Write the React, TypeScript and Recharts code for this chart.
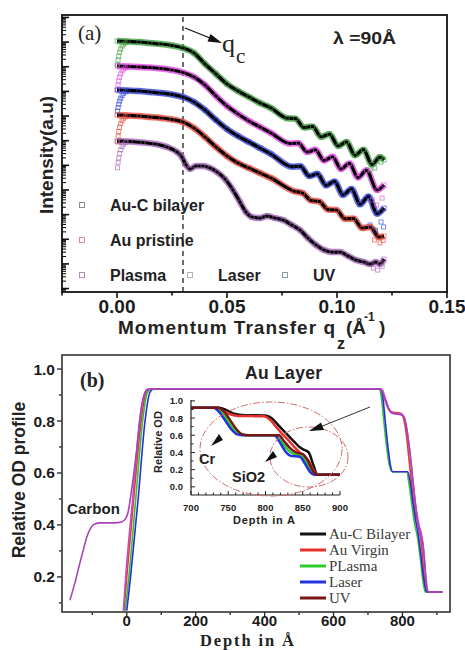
import React from 'react';
import { ComposedChart, Line, XAxis, YAxis, ReferenceLine } from 'recharts';

const SANS = 'Arial, "Liberation Sans", Helvetica, sans-serif';
const SERIF = '"Times New Roman", "Liberation Serif", Times, serif';

// ---------------- Panel (a): reflectivity (log10 intensity, a.u.) ----------------
const qMajorTicks = [0, 0.05, 0.1, 0.15];
const qTickLabels = ['0.00', '0.05', '0.10', '0.15'];
const qMinorTicks = [-0.025, 0.025, 0.075, 0.125];
const decadeTicks = [-11, -10, -9, -8, -7, -6, -5, -4, -3, -2, -1, 0];
const minorLogOffsets = [0.301, 0.477, 0.602, 0.699, 0.778, 0.845, 0.903, 0.954];

const smoothQ = [0, 0.005, 0.01, 0.015, 0.02, 0.025, 0.03, 0.035, 0.04, 0.045, 0.05, 0.055, 0.06, 0.065, 0.07];

const laserQ = [...smoothQ, 0.0773, 0.0811, 0.085, 0.0889, 0.0927, 0.0966, 0.1005, 0.1043, 0.1082, 0.112, 0.1159, 0.1195, 0.1214];
const laserFit = [-0.955, -0.976, -0.996, -1.036, -1.077, -1.138, -1.239, -1.442, -1.889, -2.294, -2.7, -2.984, -3.228, -3.471, -3.674,
  -4.088, -4.105, -4.466, -4.421, -4.843, -4.733, -5.216, -5.05, -5.594, -5.363, -5.971, -5.667, -5.785];

const plasmaQ = [...smoothQ, 0.0786, 0.0825, 0.0864, 0.0902, 0.0941, 0.098, 0.1018, 0.1057, 0.1095, 0.1134, 0.1182, 0.1214];
const plasmaFit = [-1.97, -1.99, -2.01, -2.031, -2.071, -2.132, -2.234, -2.416, -2.741, -3.187, -3.593, -3.918, -4.202, -4.445, -4.689,
  -5.115, -5.099, -5.458, -5.371, -5.805, -5.651, -6.15, -5.923, -6.495, -6.203, -7.002, -6.799];

const uvQ = [...smoothQ, 0.0795, 0.0834, 0.0873, 0.0911, 0.095, 0.0989, 0.1027, 0.1066, 0.1105, 0.1143, 0.1182, 0.1214];
const uvFit = [-2.944, -2.964, -2.984, -3.025, -3.066, -3.126, -3.228, -3.431, -3.756, -4.161, -4.527, -4.811, -5.054, -5.298, -5.541,
  -6.053, -6.039, -6.434, -6.345, -6.816, -6.653, -7.201, -6.958, -7.583, -7.266, -7.964, -7.733];

const pristineQ = [...smoothQ, 0.0805, 0.0843, 0.0882, 0.092, 0.0959, 0.0998, 0.1036, 0.1075, 0.1114, 0.1152, 0.1191, 0.1214];
const pristineFit = [-3.958, -3.979, -3.999, -4.04, -4.08, -4.141, -4.243, -4.486, -4.851, -5.257, -5.622, -5.906, -6.109, -6.312, -6.515,
  -7.051, -7.124, -7.424, -7.469, -7.794, -7.814, -8.171, -8.159, -8.544, -8.504, -8.914, -8.869];

const bilayerQ = [0, 0.0059, 0.0118, 0.0173, 0.0227, 0.0273, 0.0295, 0.0314, 0.0332, 0.0359, 0.0391, 0.0423, 0.0455, 0.0491, 0.0527,
  0.0559, 0.0586, 0.0614, 0.065, 0.0682, 0.0718, 0.0755, 0.0795, 0.0832, 0.0868, 0.0905, 0.0941, 0.0977, 0.1014, 0.105, 0.1086,
  0.1123, 0.115, 0.1177, 0.1195, 0.1214];
const bilayerFit = [-5.014, -5.034, -5.075, -5.135, -5.257, -5.46, -5.663, -5.988, -6.15, -6.028, -6.028, -6.109, -6.272, -6.556, -7.002,
  -7.489, -7.895, -8.098, -8.139, -8.058, -8.139, -8.22, -8.423, -8.626, -8.951, -9.235, -9.438, -9.519, -9.519, -9.681, -9.843,
  -9.925, -10.006, -9.925, -10.006, -9.803];

// measured points below the footprint region and at the high-q tail
const lowQ = [0.0002, 0.0005, 0.0008, 0.0012, 0.0017, 0.0023, 0.003, 0.004];
const laserLow = [-1.93, -1.73, -1.57, -1.41, -1.28, -1.16, -1.08, -1.03];
const plasmaLow = [-2.94, -2.74, -2.58, -2.42, -2.29, -2.17, -2.09, -2.04];
const uvLow = [-3.8, -3.65, -3.52, -3.39, -3.28, -3.17, -3.08, -3.02];
const pristineLow = [-5.05, -4.82, -4.63, -4.45, -4.31, -4.19, -4.09, -4.03];
const bilayerLow = [-6.1, -5.88, -5.7, -5.52, -5.37, -5.24, -5.14, -5.08];

const laserTailQ = [0.115, 0.1172, 0.12];
const laserTail = [-6.19, -6.11, -5.87];
const plasmaTailQ = [0.116, 0.118, 0.1205];
const plasmaTail = [-7.41, -7.61, -7.33];
const uvTailQ = [0.115, 0.1175, 0.12, 0.1212];
const uvTail = [-8.42, -8.63, -8.3, -8.5];
const pristineTailQ = [0.117, 0.1195, 0.121];
const pristineTail = [-9.03, -9.15, -9.05];
const bilayerTailQ = [0.1165, 0.1185, 0.1205];
const bilayerTail = [-10.17, -10.25, -10.1];

const legendA = ['Au-C bilayer', 'Au pristine', 'Plasma', 'Laser', 'UV'];
const legendAColors = ['#8c8c8c', '#e88a8a', '#b78ab7', '#a9b8a9', '#8c98a8'];

// ---------------- Panel (b): OD depth profile ----------------
const depthMajorTicks = [0, 200, 400, 600, 800];
const depthMinorTicks = [-100, 100, 300, 500, 700, 900];
const odMajorTicks = [0.2, 0.4, 0.6, 0.8, 1.0];
const odMinorTicks = [0.1, 0.3, 0.5, 0.7, 0.9];

const bBilayerD = [-165, -150, -136, -125, -116, -106, -96, -80, -50, -20, -6, 3, 14, 29, 43, 52, 61, 70, 733, 742, 750, 758, 770, 797, 806, 815, 826, 835, 844, 852, 858, 864, 870, 876, 916];
const bBilayerOD = [0.11, 0.18, 0.254, 0.31, 0.354, 0.385, 0.401, 0.408, 0.408, 0.41, 0.42, 0.445, 0.535, 0.69, 0.855, 0.905, 0.92, 0.923, 0.923, 0.91, 0.88, 0.85, 0.83, 0.823, 0.81, 0.745, 0.63, 0.515, 0.41, 0.355, 0.335, 0.26, 0.16, 0.142, 0.142];
const bVirginD = [-8, 0, 20, 40, 52, 62, 70, 735, 745, 755, 767, 795, 803, 811, 820, 829, 837, 845, 852, 858, 864, 869, 876, 916];
const bVirginOD = [0.07, 0.2, 0.5, 0.78, 0.89, 0.92, 0.923, 0.923, 0.9, 0.86, 0.835, 0.83, 0.81, 0.75, 0.64, 0.53, 0.45, 0.41, 0.36, 0.28, 0.19, 0.145, 0.142, 0.142];
const bPlasmaD = [-5, 6, 26, 46, 60, 72, 732, 738, 746, 754, 762, 770, 812, 820, 828, 836, 844, 852, 860, 866, 916];
const bPlasmaOD = [0.07, 0.2, 0.5, 0.8, 0.91, 0.923, 0.923, 0.9, 0.8, 0.7, 0.63, 0.605, 0.605, 0.55, 0.47, 0.4, 0.35, 0.27, 0.18, 0.142, 0.142];
const bLaserD = [0, 11, 33, 53, 67, 78, 735, 742, 750, 758, 765, 772, 815, 822, 830, 838, 845, 852, 860, 868, 872, 916];
const bLaserOD = [0.07, 0.2, 0.5, 0.8, 0.91, 0.923, 0.923, 0.9, 0.8, 0.7, 0.63, 0.605, 0.605, 0.57, 0.49, 0.42, 0.37, 0.3, 0.21, 0.15, 0.142, 0.142];
const bUvD = [-10, -2, 17, 37, 50, 60, 740, 752, 762, 775, 800, 810, 820, 830, 840, 848, 856, 862, 868, 874, 880, 916];
const bUvOD = [0.07, 0.22, 0.5, 0.8, 0.9, 0.923, 0.923, 0.88, 0.845, 0.83, 0.825, 0.79, 0.7, 0.57, 0.46, 0.4, 0.36, 0.3, 0.2, 0.145, 0.142, 0.142];

// inset (zoom of 700-900 A)
const insetMajorX = [700, 750, 800, 850, 900];
const insetMinorX = [710, 720, 730, 740, 760, 770, 780, 790, 810, 820, 830, 840, 860, 870, 880, 890];
const insetMajorY = [0.0, 0.2, 0.4, 0.6, 0.8, 1.0];
const insetMinorY = [0.1, 0.3, 0.5, 0.7, 0.9];

const iBilayerD = [700, 738, 748, 758, 768, 800, 808, 818, 828, 838, 846, 852, 858, 864, 869, 874, 900];
const iBilayerOD = [0.92, 0.92, 0.89, 0.85, 0.835, 0.83, 0.8, 0.71, 0.62, 0.53, 0.46, 0.43, 0.4, 0.26, 0.15, 0.14, 0.14];
const iVirginD = [700, 734, 744, 754, 764, 798, 806, 814, 822, 830, 838, 846, 852, 858, 864, 869, 900];
const iVirginOD = [0.92, 0.92, 0.88, 0.84, 0.825, 0.82, 0.78, 0.7, 0.62, 0.55, 0.47, 0.4, 0.36, 0.3, 0.2, 0.145, 0.14];
const iPlasmaD = [700, 733, 742, 750, 758, 766, 775, 815, 822, 830, 838, 848, 855, 862, 867, 900];
const iPlasmaOD = [0.92, 0.92, 0.86, 0.76, 0.66, 0.61, 0.6, 0.6, 0.52, 0.43, 0.38, 0.36, 0.28, 0.17, 0.14, 0.14];
const iLaserD = [700, 730, 738, 746, 754, 762, 770, 812, 819, 826, 834, 846, 853, 860, 865, 900];
const iLaserOD = [0.92, 0.92, 0.87, 0.77, 0.67, 0.61, 0.6, 0.6, 0.52, 0.42, 0.36, 0.35, 0.27, 0.17, 0.14, 0.14];
const iUvD = [700, 736, 745, 753, 761, 769, 778, 818, 825, 833, 841, 850, 857, 864, 869, 900];
const iUvOD = [0.92, 0.92, 0.87, 0.77, 0.67, 0.61, 0.6, 0.6, 0.53, 0.45, 0.4, 0.38, 0.3, 0.18, 0.14, 0.14];

const legendB = ['Au-C Bilayer', 'Au Virgin', 'PLasma', 'Laser', 'UV'];
const legendBColors = ['#111111', '#e8302c', '#2ccc2c', '#2233dd', '#7a1515'];

// ---------------- helpers ----------------
const pts = (xs: number[], ys: number[]) => xs.map((x, i) => ({ x, y: ys[i] }));
const yTicksA: number[] = [];
for (const d of [-12, ...decadeTicks]) {
  if (d >= -11.14) yTicksA.push(d);
  for (const o of minorLogOffsets) {
    const t = d + o;
    if (t >= -11.14 && t <= 0.1) yTicksA.push(t);
  }
}

const seriesA = [
  { name: 'Laser', color: '#3f9c3f', fit: pts(laserQ, laserFit), data: [...pts(lowQ, laserLow), ...pts(laserQ, laserFit), ...pts(laserTailQ, laserTail)] },
  { name: 'Plasma', color: '#e046e0', fit: pts(plasmaQ, plasmaFit), data: [...pts(lowQ, plasmaLow), ...pts(plasmaQ, plasmaFit), ...pts(plasmaTailQ, plasmaTail)] },
  { name: 'UV', color: '#3446d6', fit: pts(uvQ, uvFit), data: [...pts(lowQ, uvLow), ...pts(uvQ, uvFit), ...pts(uvTailQ, uvTail)] },
  { name: 'Au pristine', color: '#e84a3c', fit: pts(pristineQ, pristineFit), data: [...pts(lowQ, pristineLow), ...pts(pristineQ, pristineFit), ...pts(pristineTailQ, pristineTail)] },
  { name: 'Au-C bilayer', color: '#a366b8', fit: pts(bilayerQ, bilayerFit), data: [...pts(lowQ, bilayerLow), ...pts(bilayerQ, bilayerFit), ...pts(bilayerTailQ, bilayerTail)] },
];

const seriesB = [
  { name: 'Au Virgin', color: '#e83a34', data: pts(bVirginD, bVirginOD) },
  { name: 'PLasma', color: '#2ec22e', data: pts(bPlasmaD, bPlasmaOD) },
  { name: 'Laser', color: '#2a2ae0', data: pts(bLaserD, bLaserOD) },
  { name: 'UV', color: '#c44ac8', data: pts(bUvD, bUvOD) },
  { name: 'Au-C Bilayer', color: '#a545b5', data: pts(bBilayerD, bBilayerOD) },
];

const seriesI = [
  { name: 'Au-C Bilayer', color: '#111111', data: pts(iBilayerD, iBilayerOD) },
  { name: 'Au Virgin', color: '#e8302c', data: pts(iVirginD, iVirginOD) },
  { name: 'PLasma', color: '#2ccc2c', data: pts(iPlasmaD, iPlasmaOD) },
  { name: 'Laser', color: '#2233dd', data: pts(iLaserD, iLaserOD) },
  { name: 'UV', color: '#7a1515', data: pts(iUvD, iUvOD) },
];

const near = (a: number, b: number) => Math.abs(a - b) < 1e-6;

const squareDot = (color: string) => (p: any) => {
  if (p == null || p.cx == null || p.cy == null || isNaN(p.cx) || isNaN(p.cy)) return <g key={`e${p?.index}`} />;
  return <rect key={`s${p.index}`} x={p.cx - 2} y={p.cy - 2} width={4} height={4} fill="none" stroke={color} strokeWidth={0.9} opacity={0.7} />;
};

// ---------------- tick renderers ----------------
const XTickA = (p: any) => {
  const v = p.payload.value;
  const i = qMajorTicks.findIndex((t) => near(t, v));
  return (
    <g>
      <line x1={p.x} x2={p.x} y1={p.y} y2={p.y + (i >= 0 ? 6 : 3.5)} stroke="#111" strokeWidth={1.6} />
      {i >= 0 && (
        <text x={p.x} y={p.y + 21} textAnchor="middle" fontFamily={SANS} fontWeight="bold" fontSize={19} fill="#1a1a1a">
          {qTickLabels[i]}
        </text>
      )}
    </g>
  );
};

const YTickA = (p: any) => {
  const v = p.payload.value;
  const major = near(v, Math.round(v));
  return <line x1={p.x} x2={p.x + (major ? 7 : 4)} y1={p.y} y2={p.y} stroke="#111" strokeWidth={major ? 1.6 : 1.1} />;
};

const XTickB = (p: any) => {
  const v = p.payload.value;
  const major = depthMajorTicks.some((t) => near(t, v));
  return (
    <g>
      <line x1={p.x} x2={p.x} y1={p.y} y2={p.y + (major ? 5 : 3)} stroke="#222" strokeWidth={1.3} />
      {major && (
        <text x={p.x} y={p.y + 14} textAnchor="middle" fontFamily={SANS} fontWeight="bold" fontSize={15} fill="#1a1a1a">
          {String(v)}
        </text>
      )}
    </g>
  );
};

const YTickB = (p: any) => {
  const v = p.payload.value;
  const major = odMajorTicks.some((t) => near(t, v));
  return (
    <g>
      <line x1={p.x} x2={p.x - (major ? 5 : 3)} y1={p.y} y2={p.y} stroke="#222" strokeWidth={1.3} />
      {major && (
        <text x={p.x - 7} y={p.y + 5.5} textAnchor="end" fontFamily={SANS} fontWeight="bold" fontSize={15.5} fill="#1a1a1a">
          {v.toFixed(1)}
        </text>
      )}
    </g>
  );
};

const XTickI = (p: any) => {
  const v = p.payload.value;
  const major = insetMajorX.some((t) => near(t, v));
  return (
    <g>
      <line x1={p.x} x2={p.x} y1={p.y} y2={p.y - (major ? 4 : 2.5)} stroke="#222" strokeWidth={1} />
      {major && (
        <text x={p.x} y={p.y + 16} textAnchor="middle" fontFamily={SANS} fontWeight="bold" fontSize={9.5} fill="#222">
          {String(v)}
        </text>
      )}
    </g>
  );
};

const YTickI = (p: any) => {
  const v = p.payload.value;
  const major = insetMajorY.some((t) => near(t, v));
  return (
    <g>
      <line x1={p.x} x2={p.x + (major ? 4 : 2.5)} y1={p.y} y2={p.y} stroke="#222" strokeWidth={1} />
      {major && (
        <text x={p.x - 8} y={p.y + 3.5} textAnchor="end" fontFamily={SANS} fontWeight="bold" fontSize={9.5} fill="#222">
          {v.toFixed(1)}
        </text>
      )}
    </g>
  );
};

const layer: React.CSSProperties = { position: 'absolute', left: 0, top: 0 };

export default function App() {
  return (
    <div style={{ position: 'absolute', left: 0, top: 0, width: 465, height: 650, background: '#fff', overflow: 'hidden' }}>
      {/* Panel (a) */}
      <div style={layer}>
        <ComposedChart width={465} height={650} margin={{ top: 15, right: 18, bottom: 328, left: 22 }}>
          <XAxis type="number" dataKey="x" domain={[-0.025, 0.15]} allowDataOverflow ticks={[...qMinorTicks, ...qMajorTicks].sort((a, b) => a - b)}
            interval={0} tick={XTickA} tickLine={false} axisLine={false} tickSize={0} tickMargin={0} height={30} />
          <YAxis type="number" dataKey="y" domain={[-11.14, 0.1]} allowDataOverflow ticks={yTicksA} interval={0}
            tick={YTickA} tickLine={false} axisLine={false} tickSize={0} tickMargin={0} width={40} />
          <ReferenceLine x={0.03} stroke="#222" strokeWidth={1.3} strokeDasharray="5 4" />
          {seriesA.map((s) => (
            <Line key={`band-${s.name}`} data={s.fit} dataKey="y" type="monotone" stroke={s.color} strokeWidth={6.5} strokeOpacity={0.75}
              dot={false} activeDot={false} isAnimationActive={false} legendType="none" />
          ))}
          {seriesA.map((s) => (
            <Line key={`pts-${s.name}`} data={s.data} dataKey="y" stroke="none" dot={squareDot(s.color)} activeDot={false}
              isAnimationActive={false} legendType="none" />
          ))}
          {seriesA.map((s) => (
            <Line key={`fit-${s.name}`} data={s.fit} dataKey="y" type="monotone" stroke="#000" strokeWidth={3.2}
              dot={false} activeDot={false} isAnimationActive={false} legendType="none" />
          ))}
        </ComposedChart>
      </div>

      {/* Panel (b) */}
      <div style={layer}>
        <ComposedChart width={465} height={650} margin={{ top: 355, right: 15, bottom: 8, left: 22 }}>
          <XAxis type="number" dataKey="x" domain={[-188, 938]} allowDataOverflow ticks={[...depthMinorTicks, ...depthMajorTicks].sort((a, b) => a - b)}
            interval={0} tick={XTickB} tickLine={false} axisLine={false} tickSize={0} tickMargin={0} height={30} />
          <YAxis type="number" dataKey="y" domain={[0.065, 1.054]} allowDataOverflow ticks={[...odMinorTicks, ...odMajorTicks].sort((a, b) => a - b)}
            interval={0} tick={YTickB} tickLine={false} axisLine={false} tickSize={0} tickMargin={0} width={40} />
          {seriesB.map((s) => (
            <Line key={`b-${s.name}`} data={s.data} dataKey="y" type="monotone" stroke={s.color} strokeWidth={1.6}
              dot={false} activeDot={false} isAnimationActive={false} legendType="none" />
          ))}
        </ComposedChart>
      </div>

      {/* Inset */}
      <div style={layer}>
        <ComposedChart width={465} height={650} margin={{ top: 400, right: 125, bottom: 135, left: 161 }}>
          <XAxis type="number" dataKey="x" domain={[700, 900]} allowDataOverflow ticks={[...insetMinorX, ...insetMajorX].sort((a, b) => a - b)}
            interval={0} tick={XTickI} tickLine={false} axisLine={{ stroke: '#222', strokeWidth: 1.2 }} tickSize={0} tickMargin={0} height={20} />
          <YAxis type="number" dataKey="y" domain={[-0.095, 1.01]} allowDataOverflow ticks={[...insetMinorY, ...insetMajorY].sort((a, b) => a - b)}
            interval={0} tick={YTickI} tickLine={false} axisLine={{ stroke: '#222', strokeWidth: 1.2 }} tickSize={0} tickMargin={0} width={30} />
          {seriesI.map((s) => (
            <Line key={`i-${s.name}`} data={s.data} dataKey="y" type="monotone" stroke={s.color} strokeWidth={2.5}
              dot={false} activeDot={false} isAnimationActive={false} legendType="none" />
          ))}
        </ComposedChart>
      </div>

      {/* Annotations */}
      <svg width={465} height={650} style={{ ...layer, pointerEvents: 'none' }}>
        {/* frames */}
        <rect x={62} y={15} width={385} height={277} fill="none" stroke="#111" strokeWidth={1.8} />
        <rect x={62} y={355} width={388} height={257} fill="none" stroke="#333" strokeWidth={1.6} />

        {/* panel (a) texts */}
        <text x={78} y={40} fontFamily={SERIF} fontSize={21} fill="#222">(a)</text>
        <line x1={185} y1={28} x2={210} y2={38} stroke="#111" strokeWidth={1.3} />
        <polygon points="222,43 207.5,41.4 210.5,34" fill="#111" />
        <text x={222} y={52} fontFamily={SERIF} fontSize={26} fill="#222">q</text>
        <text x={236} y={63} fontFamily={SERIF} fontSize={21} fill="#222">c</text>
        <text x={333} y={44} fontFamily={SANS} fontWeight="bold" fontSize={16.5} fill="#222" textLength={63} lengthAdjust="spacingAndGlyphs">λ =90Å</text>

        {legendA.map((name, i) => {
          const pos = [
            { mx: 82, my: 205, tx: 110, ty: 211 },
            { mx: 82, my: 240, tx: 110, ty: 246 },
            { mx: 82, my: 275, tx: 110, ty: 281 },
            { mx: 190, my: 275, tx: 218, ty: 281 },
            { mx: 285, my: 275, tx: 313, ty: 281 },
          ][i];
          return (
            <g key={name}>
              <rect x={pos.mx - 2.5} y={pos.my - 2.5} width={5} height={5} fill="none" stroke={legendAColors[i]} strokeWidth={1} />
              <text x={pos.tx} y={pos.ty} fontFamily={SANS} fontWeight="bold" fontSize={16} fill="#222">{name}</text>
            </g>
          );
        })}

        <text transform="translate(53,155) rotate(-90)" textAnchor="middle" fontFamily={SANS} fontWeight="bold" fontSize={19} fill="#222">Intensity(a.u)</text>
        <text x={118} y={334} fontFamily={SANS} fontWeight="bold" fontSize={19} fill="#222" textLength={217} lengthAdjust="spacing">Momentum Transfer q</text>
        <text x={337} y={349} fontFamily={SANS} fontWeight="bold" fontSize={16} fill="#222">z</text>
        <text x={346} y={334} fontFamily={SANS} fontWeight="bold" fontSize={19} fill="#222">(Å</text>
        <text x={364} y={321} fontFamily={SANS} fontWeight="bold" fontSize={12} fill="#222">-1</text>
        <text x={379} y={334} fontFamily={SANS} fontWeight="bold" fontSize={19} fill="#222">)</text>

        {/* panel (b) texts */}
        <text x={80} y={387} fontFamily={SERIF} fontWeight="bold" fontSize={20} fill="#222">(b)</text>
        <text x={245} y={379} fontFamily={SANS} fontWeight="bold" fontSize={17.5} fill="#222" textLength={77} lengthAdjust="spacing">Au Layer</text>
        <text x={67} y={514} fontFamily={SANS} fontWeight="bold" fontSize={15} fill="#222" textLength={53} lengthAdjust="spacing">Carbon</text>
        <text transform="translate(25,480) rotate(-90)" textAnchor="middle" fontFamily={SANS} fontWeight="bold" fontSize={17.5} fill="#222">Relative OD profile</text>
        <text x={247} y={646} textAnchor="middle" fontFamily={SERIF} fontWeight="bold" fontSize={16.5} fill="#222" textLength={94} lengthAdjust="spacing">Depth in Å</text>

        {/* inset annotations */}
        <ellipse cx={271} cy={449} rx={71} ry={47} fill="none" stroke="#d06a6a" strokeWidth={1} strokeDasharray="7 2 1.5 2" />
        <ellipse cx={309} cy={457} rx={39} ry={30} fill="none" stroke="#d06a6a" strokeWidth={1} strokeDasharray="7 2 1.5 2" />
        <line x1={370} y1={407} x2={320} y2={427} stroke="#333" strokeWidth={1} />
        <polygon points="309,431 321,422.5 324,430" fill="#111" />
        <polygon points="211,446 219,434 223,440" fill="#111" />
        <polygon points="265,462 273,451 277,457" fill="#111" />
        <text x={199} y={464} fontFamily={SANS} fontWeight="bold" fontSize={14.5} fill="#222">Cr</text>
        <text x={232} y={482} fontFamily={SANS} fontWeight="bold" fontSize={14.5} fill="#222">SiO2</text>
        <text x={233} y={524} fontFamily={SANS} fontWeight="bold" fontSize={11} fill="#222" textLength={62} lengthAdjust="spacing">Depth in  A</text>
        <text transform="translate(162,442) rotate(-90)" textAnchor="middle" fontFamily={SANS} fontWeight="bold" fontSize={11} fill="#222">Relative OD</text>

        {/* panel (b) legend */}
        {legendB.map((name, i) => (
          <g key={name}>
            <line x1={300} x2={326} y1={534 + i * 16} y2={534 + i * 16} stroke={legendBColors[i]} strokeWidth={3} />
            <text x={329} y={539 + i * 16} fontFamily={SERIF} fontSize={15} fill="#3a3a3a">{name}</text>
          </g>
        ))}
      </svg>
    </div>
  );
}
